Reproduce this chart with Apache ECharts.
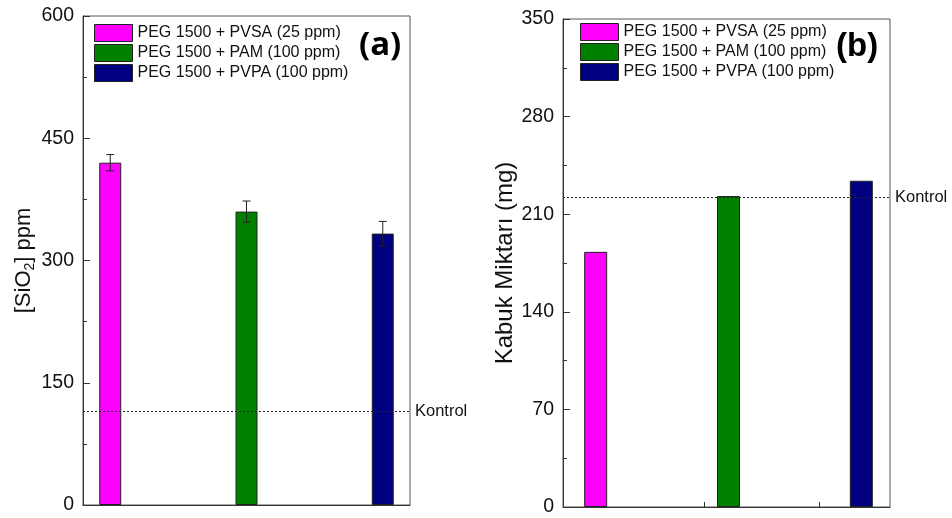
<!DOCTYPE html>
<html>
<head>
<meta charset="utf-8">
<script src="https://cdn.jsdelivr.net/npm/echarts@6/dist/echarts.min.js"></script>
<style>
  html, body { margin: 0; padding: 0; background: #fff; }
  #c { width: 952px; height: 518px; }
</style>
</head>
<body>
<div id="c"></div>
<script>
// ---- data ----
const categories = ['PEG 1500 + PVSA (25 ppm)', 'PEG 1500 + PAM (100 ppm)', 'PEG 1500 + PVPA (100 ppm)'];
const barColors = ['#FF00FF', '#008000', '#000080'];
const sio2Values = [420, 360, 333];
const sio2Errors = [10, 13, 15];
const sio2Control = 115;
const sio2TickLabels = [0, 150, 300, 450, 600];
const kabukValues = [183, 223, 234];
const kabukControl = 222;
const kabukTickLabels = [0, 70, 140, 210, 280, 350];
const controlLabel = 'Kontrol';

const FONT = '"Liberation Sans", Arial, sans-serif';
const TXT = '#111';
const AX = '#333';

function yAxisCfg(gridIndex, ticks, name, nameStyle, nameGap) {
  return {
    type: 'value', gridIndex,
    min: ticks[0], max: ticks[ticks.length - 1], interval: ticks[1] - ticks[0],
    name, nameLocation: 'middle', nameGap, nameRotate: 90,
    nameTextStyle: nameStyle,
    axisLine: { show: true, lineStyle: { color: AX, width: 1 } },
    axisTick: { show: true, inside: true, length: 7, lineStyle: { color: AX } },
    minorTick: { show: true, splitNumber: 2, length: 4, lineStyle: { color: AX } },
    axisLabel: { color: TXT, fontSize: 19.5, fontFamily: FONT, margin: 9 },
    splitLine: { show: false }
  };
}

function xAxisCfg(gridIndex, min, max, tickVals) {
  return {
    type: 'value', gridIndex, min, max,
    axisLine: { show: true, onZero: false, lineStyle: { color: AX, width: 1 } },
    axisTick: { show: true, inside: true, length: 5, customValues: tickVals, lineStyle: { color: AX } },
    axisLabel: { show: false },
    splitLine: { show: false }
  };
}

const series = [];
categories.forEach((name, i) => {
  series.push({
    type: 'bar', name, xAxisIndex: 0, yAxisIndex: 0,
    data: [[i + 1, sio2Values[i]]],
    barWidth: 22, barGap: '-100%',
    itemStyle: { color: barColors[i], borderColor: '#222', borderWidth: 1 },
    markLine: i === 0 ? {
      silent: true, symbol: ['none', 'none'],
      lineStyle: { color: '#222', type: [2, 2], width: 1 },
      label: { show: true, position: 'end', formatter: controlLabel, color: TXT, fontSize: 16.5, fontFamily: FONT, distance: 5 },
      data: [{ yAxis: sio2Control }]
    } : undefined
  });
});
series.push({
  type: 'custom', name: 'err', xAxisIndex: 0, yAxisIndex: 0, z: 10,
  encode: { x: 0, y: [1, 2] },
  data: sio2Values.map((v, i) => [i + 1, v - sio2Errors[i], v + sio2Errors[i]]),
  renderItem: function (params, api) {
    const lo = api.coord([api.value(0), api.value(1)]);
    const hi = api.coord([api.value(0), api.value(2)]);
    const hw = 4;
    const style = { stroke: '#222', lineWidth: 1 };
    return {
      type: 'group',
      children: [
        { type: 'line', shape: { x1: lo[0], y1: lo[1], x2: hi[0], y2: hi[1] }, style },
        { type: 'line', shape: { x1: lo[0] - hw, y1: lo[1], x2: lo[0] + hw, y2: lo[1] }, style },
        { type: 'line', shape: { x1: hi[0] - hw, y1: hi[1], x2: hi[0] + hw, y2: hi[1] }, style }
      ]
    };
  }
});
categories.forEach((name, i) => {
  series.push({
    type: 'bar', name, xAxisIndex: 1, yAxisIndex: 1,
    data: [[i + 1, kabukValues[i]]],
    barWidth: 23, barGap: '-100%',
    itemStyle: { color: barColors[i], borderColor: '#222', borderWidth: 1 },
    markLine: i === 0 ? {
      silent: true, symbol: ['none', 'none'],
      lineStyle: { color: '#222', type: [2, 2], width: 1 },
      label: { show: true, position: 'end', formatter: controlLabel, color: TXT, fontSize: 16.5, fontFamily: FONT, distance: 5 },
      data: [{ yAxis: kabukControl }]
    } : undefined
  });
});

const legendBase = {
  orient: 'vertical', itemWidth: 38, itemHeight: 17, itemGap: 2, icon: 'rect',
  data: categories, selectedMode: false,
  textStyle: { color: TXT, fontSize: 16, fontFamily: FONT },
  itemStyle: { borderColor: '#222', borderWidth: 1 }
};

const option = {
  backgroundColor: '#fff',
  animation: false,
  title: [
    { text: '(a)', left: 354, top: 24, textStyle: { fontSize: 33, fontWeight: 'bold', fontFamily: '"Open Sans", sans-serif', color: '#000' } },
    { text: '(b)', left: 831, top: 25, textStyle: { fontSize: 33, fontWeight: 'bold', fontFamily: FONT, color: '#000' } }
  ],
  legend: [
    Object.assign({ left: 89, top: 19 }, legendBase),
    Object.assign({ left: 575, top: 18 }, legendBase)
  ],
  grid: [
    { left: 83, top: 16, width: 327, height: 489, show: true, borderColor: '#555', borderWidth: 1, backgroundColor: 'transparent' },
    { left: 563, top: 19, width: 327, height: 488, show: true, borderColor: '#555', borderWidth: 1, backgroundColor: 'transparent' }
  ],
  xAxis: [
    xAxisCfg(0, 0.8, 3.2, [1, 2, 3]),
    xAxisCfg(1, 0.754, 3.216, [0.94, 1.82, 2.68])
  ],
  yAxis: [
    yAxisCfg(0, sio2TickLabels, '[SiO{sub|2}] ppm', {
      color: TXT, fontSize: 22, fontFamily: FONT,
      rich: { sub: { fontSize: 14, fontFamily: FONT, color: TXT, padding: [12, 0, 0, 0] } }
    }, 46),
    yAxisCfg(1, kabukTickLabels, 'Kabuk Miktarı (mg)', { color: TXT, fontSize: 24, fontFamily: FONT }, 41)
  ],
  series
};

const chart = echarts.init(document.getElementById('c'));
chart.setOption(option);
</script>
</body>
</html>
